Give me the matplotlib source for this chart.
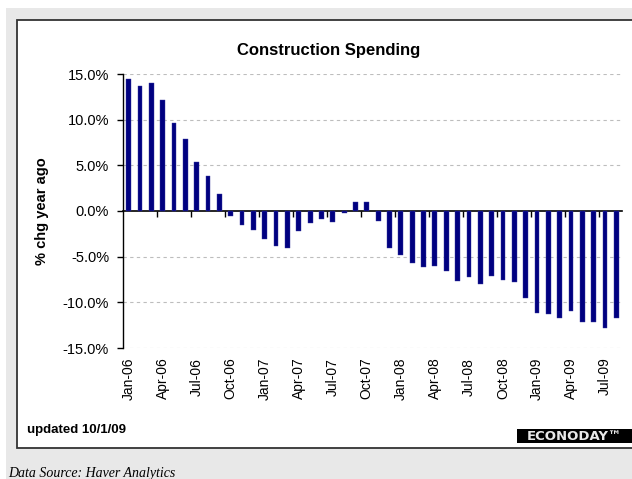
''' Construction spending, % change from a year ago (monthly)

'''

import matplotlib
matplotlib.use('Agg')
import matplotlib.pyplot as plt
from matplotlib.patches import Rectangle
from matplotlib.ticker import FuncFormatter


# DATA
#*************

months = ['Jan-06', 'Feb-06', 'Mar-06', 'Apr-06', 'May-06', 'Jun-06', 'Jul-06', 'Aug-06',
          'Sep-06', 'Oct-06', 'Nov-06', 'Dec-06', 'Jan-07', 'Feb-07', 'Mar-07', 'Apr-07',
          'May-07', 'Jun-07', 'Jul-07', 'Aug-07', 'Sep-07', 'Oct-07', 'Nov-07', 'Dec-07',
          'Jan-08', 'Feb-08', 'Mar-08', 'Apr-08', 'May-08', 'Jun-08', 'Jul-08', 'Aug-08',
          'Sep-08', 'Oct-08', 'Nov-08', 'Dec-08', 'Jan-09', 'Feb-09', 'Mar-09', 'Apr-09',
          'May-09', 'Jun-09', 'Jul-09', 'Aug-09']

pct_chg = [14.45, 13.72, 13.98, 12.19, 9.60, 7.92, 5.33, 3.83,
           1.86, -0.55, -1.57, -2.04, -3.10, -3.87, -4.01, -2.23,
           -1.31, -0.84, -1.17, -0.22, 0.95, 0.95, -1.13, -4.05,
           -4.82, -5.73, -6.17, -6.02, -6.60, -7.66, -7.26, -7.99,
           -7.08, -7.52, -7.81, -9.49, -11.17, -11.31, -11.75, -10.99,
           -12.19, -12.19, -12.81, -11.72]

y_ticks = [-15, -10, -5, 0, 5, 10, 15]
label_every = 3

# SET UP
#*************

W, H = 632, 479
plt.rcParams['font.family'] = ['Liberation Sans', 'DejaVu Sans']

fig = plt.figure(figsize=(W / 100, H / 100), dpi=100)
fig.patch.set_facecolor('white')

def px(x0, y0, x1, y1):
    # pixel box (top-left origin) -> figure fraction rect
    return (x0 / W, 1 - y1 / H), (x1 - x0) / W, (y1 - y0) / H

# gray page and white framed chart panel (behind the axes)
xy, w, h = px(6, 8, W, H)
fig.patches.append(Rectangle(xy, w, h, transform=fig.transFigure, facecolor='#e8e8e8',
                             edgecolor='none', zorder=-3))
xy, w, h = px(17, 20, W + 10, 448)
fig.patches.append(Rectangle(xy, w, h, transform=fig.transFigure, facecolor='white',
                             edgecolor='#333333', linewidth=1.3, zorder=-2))
# logo box
xy, w, h = px(517, 429, W, 443)
fig.patches.append(Rectangle(xy, w, h, transform=fig.transFigure, facecolor='black',
                             edgecolor='none', zorder=-1))

ax = fig.add_axes([123 / W, 1 - 348 / H, (622 - 123) / W, (348 - 74) / H])
ax.set_facecolor('none')

x = list(range(len(months)))
ax.bar(x, pct_chg, width=0.42, color='#000080', edgecolor='#3a3aa0', linewidth=0.3, zorder=3)

ax.set_xlim(-0.5, len(months) - 0.5)
ax.set_ylim(y_ticks[0], y_ticks[-1])

# y axis
ax.set_yticks(y_ticks)
ax.yaxis.set_major_formatter(FuncFormatter(lambda v, p: '%.1f%%' % v))
ax.tick_params(axis='y', direction='out', length=4, width=1, pad=6, labelsize=10.5, color='black')
ax.set_ylabel('% chg year ago', fontsize=10.5, fontweight='bold')
ax.yaxis.set_label_coords(-0.148, 0.5)

# dashed grid, solid line at zero
for v in y_ticks:
    if v != 0:
        ax.axhline(v, color='#bdbdbd', linewidth=0.8, linestyle=(0, (3, 3)), zorder=1)

# x labels sit below the plot
ax.set_xticks(x[::label_every])
ax.set_xticklabels(months[::label_every], rotation=90, fontsize=10)
ax.tick_params(axis='x', length=0, pad=7)

for s in ['top', 'right', 'bottom']:
    ax.spines[s].set_visible(False)
ax.spines['left'].set_linewidth(1)

# category axis through zero, tick marks between groups of 3 months (pointing down)
zero_pos = (0 - y_ticks[0]) / (y_ticks[-1] - y_ticks[0])
sec = ax.secondary_xaxis(zero_pos)
sec.set_xticks([i - 0.5 for i in range(label_every, len(months), label_every)])
sec.set_xticklabels([])
sec.tick_params(axis='x', direction='in', length=4, width=1, color='black')
for s in sec.spines.values():
    s.set_linewidth(1.2)

# titles and notes
fig.text(329 / W, 1 - 50 / H, 'Construction Spending', ha='center', va='center',
         fontsize=12, fontweight='bold')
fig.text(27 / W, 1 - 430 / H, 'updated 10/1/09', ha='left', va='center',
         fontsize=9.5, fontweight='bold')
fig.text(574 / W, 1 - 436 / H, 'ECONODAY\u2122', ha='center', va='center', color='#e8e8e8',
         fontsize=9.5, fontweight='bold', family='DejaVu Sans')
fig.text(8 / W, 1 - 467 / H, 'Data Source: Haver Analytics', ha='left', va='top',
         fontsize=10, style='italic', family='Liberation Serif')

plt.savefig('out.png', dpi=100)
